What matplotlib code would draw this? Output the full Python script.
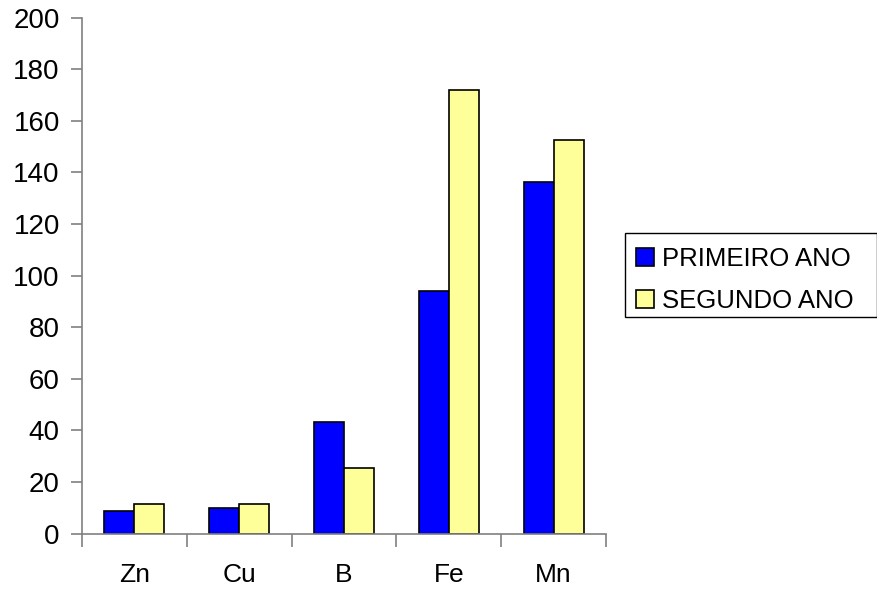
import matplotlib
matplotlib.use("Agg")
import matplotlib.pyplot as plt
from matplotlib.patches import Rectangle
import numpy as np

categories = ["Zn", "Cu", "B", "Fe", "Mn"]
primeiro_ano = [8.9, 9.8, 43.2, 94.0, 136.2]
segundo_ano = [11.6, 11.6, 25.3, 172.0, 152.6]
series_labels = ["PRIMEIRO ANO", "SEGUNDO ANO"]
yticks = [0, 20, 40, 60, 80, 100, 120, 140, 160, 180, 200]

plt.rcParams['font.family'] = ['Liberation Sans', 'DejaVu Sans']

fig = plt.figure(figsize=(8.78, 5.94), dpi=100)
ax = fig.add_axes([82/878, 1 - 533.7/594, (606-82)/878, (533.7-17.5)/594])

x = np.arange(len(categories))
w = 0.286
b1 = ax.bar(x - w/2, primeiro_ano, w, color="#0000FF", edgecolor="black", linewidth=1.2, label=series_labels[0])
b2 = ax.bar(x + w/2, segundo_ano, w, color="#FFFF99", edgecolor="black", linewidth=1.2, label=series_labels[1])

ax.set_xlim(-0.5, len(categories) - 0.5)
ax.set_ylim(0, 200)
ax.set_yticks(yticks)
ax.set_yticklabels([str(v) for v in yticks])
ax.set_xticks(x)
ax.set_xticklabels(categories)
ax.set_xticks(np.arange(len(categories) + 1) - 0.5, minor=True)

for s in ["top", "right"]:
    ax.spines[s].set_visible(False)
for s in ["left", "bottom"]:
    ax.spines[s].set_color("#808080")
    ax.spines[s].set_linewidth(1.2)

ax.tick_params(axis="x", which="major", length=0, pad=21, labelsize=19)
ax.tick_params(axis="x", which="minor", length=9, width=1.2, color="#808080", direction="out")
ax.tick_params(axis="y", which="major", length=8, width=1.2, color="#808080", direction="out", pad=8, labelsize=20)

leg = fig.legend(handles=[b1, b2], labels=series_labels, loc="center left",
                 bbox_to_anchor=(631/878, 1 - 280/594), fontsize=18.5,
                 handlelength=0.7, handleheight=0.7, handletextpad=0.3,
                 borderpad=0.2, labelspacing=0.72, frameon=False,
                 borderaxespad=0)

frame = Rectangle((625/878, 1 - 317/594), (877-625)/878, (317-233)/594,
                  transform=fig.transFigure, facecolor="none", edgecolor="black",
                  linewidth=1.0)
fig.patches.append(frame)

fig.savefig("out.png", dpi=100)
